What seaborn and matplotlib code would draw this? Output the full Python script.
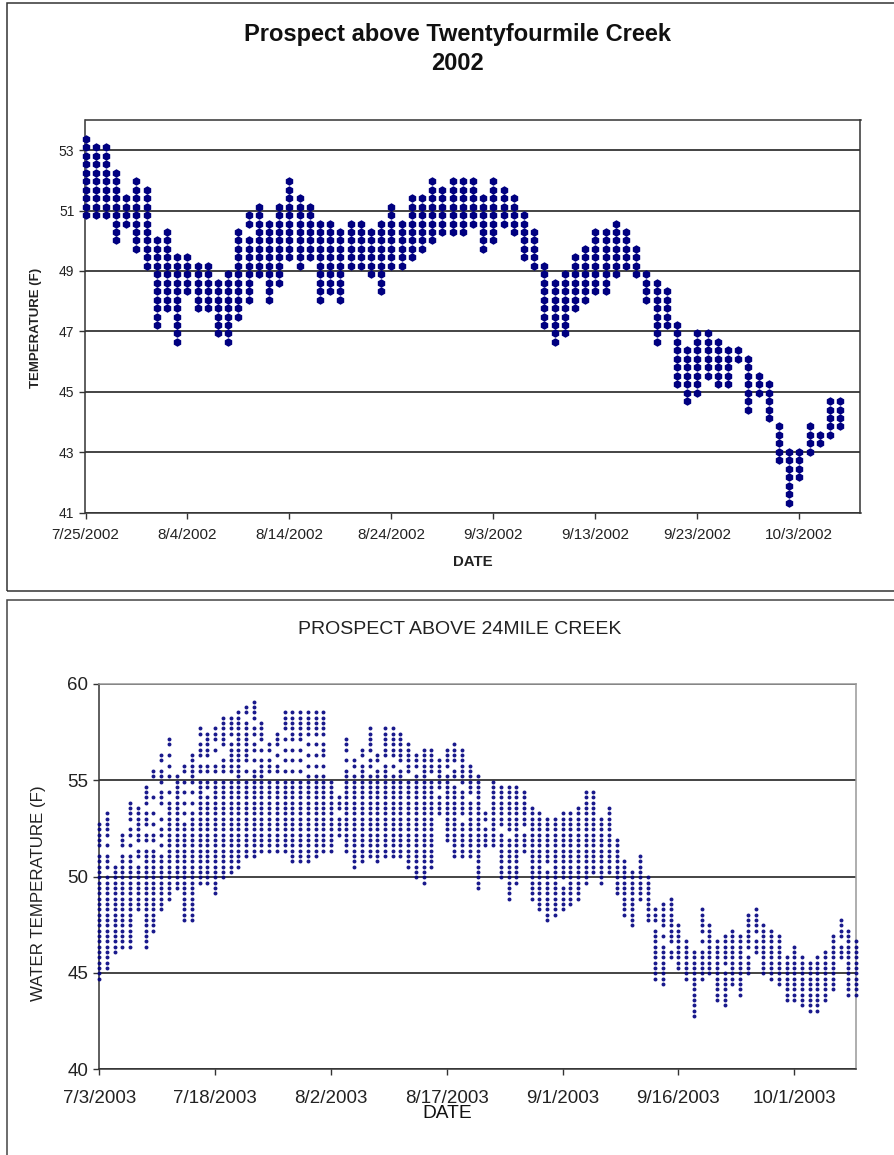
import matplotlib
matplotlib.use('Agg')
import matplotlib.pyplot as plt
import matplotlib.dates as mdates
from matplotlib.patches import Rectangle
import seaborn as sns
import pandas as pd
import numpy as np

# 2002 chart, daily highs and lows (F)
start_2002 = '2002-07-25'
highs_2002 = [53.37,53.09,53.09,52.25,51.41,51.97,51.69,50.01,50.29,49.45,49.45,49.17,49.17,48.61,48.89,
              50.29,50.85,51.13,50.57,51.13,51.97,51.41,51.13,50.57,50.57,50.29,50.57,50.57,50.29,50.57,
              51.13,50.57,51.41,51.41,51.97,51.69,51.97,51.97,51.97,51.41,51.97,51.69,51.41,50.85,50.29,
              49.17,48.61,48.89,49.45,49.73,50.29,50.29,50.57,50.29,49.73,48.89,48.61,48.33,47.21,46.37,
              46.93,46.93,46.65,46.37,46.37,46.09,45.53,45.25,43.85,43.01,43.01,43.85,43.57,44.69,44.69]
lows_2002 = [50.85,50.85,50.85,50.01,50.57,49.73,49.17,47.21,47.77,46.65,48.33,47.77,47.77,46.93,46.65,
             47.49,48.05,48.89,48.05,48.61,49.45,49.17,49.45,48.05,48.33,48.05,49.17,49.17,48.89,48.33,
             49.17,49.17,49.45,49.73,50.01,50.29,50.29,50.29,50.57,49.73,50.01,50.57,50.29,49.45,49.17,
             47.21,46.65,46.93,47.77,48.05,48.33,48.33,48.89,49.17,48.89,48.05,46.65,47.21,45.25,44.69,
             44.97,45.53,45.25,45.25,46.09,44.41,44.97,44.13,42.73,41.33,42.17,43.01,43.29,43.57,43.85]
gaps_2002 = [(16, 50.29)]
ticks_2002 = ['7/25/2002', '8/4/2002', '8/14/2002', '8/24/2002', '9/3/2002', '9/13/2002', '9/23/2002', '10/3/2002']
yticks_2002 = [41, 43, 45, 47, 49, 51, 53]

# 2003 chart
start_2003 = '2003-07-03'
highs_2003 = [52.7,53.26,50.5,52.2,53.8,53.6,54.7,55.5,56.3,57.1,55.2,55.8,56.3,57.7,57.4,57.7,58.3,58.3,58.5,58.8,
              59.1,58.0,56.9,57.5,58.5,58.5,58.5,58.5,58.5,58.5,54.95,54.1,57.1,56.1,56.6,57.7,56.3,57.7,57.7,57.4,
              56.85,56.3,56.6,56.6,56.1,56.6,56.9,56.6,55.75,55.24,53.3,54.95,54.65,54.65,54.65,54.4,53.6,53.25,53.0,53.0,
              53.25,53.25,53.6,54.4,54.4,53.0,53.6,51.9,50.75,50.2,51.0,49.95,48.25,48.5,48.8,47.45,46.6,46.05,48.25,47.45,
              46.6,46.9,47.15,46.9,48.0,48.25,47.45,47.15,46.9,45.75,46.3,45.75,45.5,45.75,46.05,46.9,47.7,47.15,46.6]
lows_2003 = [44.8,45.2,46.0,46.3,46.3,48.2,46.3,47.1,48.2,48.8,49.3,47.6,47.6,49.8,49.6,49.0,49.9,50.1,50.4,51.0,
             51.0,51.2,51.2,51.2,51.2,50.7,50.7,50.7,51.0,51.2,51.2,52.1,51.2,50.5,50.7,51.0,50.7,51.0,51.0,51.0,
             50.5,49.9,49.6,50.5,53.2,51.8,51.0,51.0,51.0,49.37,51.55,51.55,49.9,48.8,49.6,51.2,48.8,48.2,47.65,47.95,
             48.2,48.5,48.8,49.6,50.2,49.6,50.1,49.1,47.95,47.4,48.8,47.65,44.65,44.3,45.7,45.2,44.65,42.65,44.65,44.9,
             43.5,43.2,44.3,43.75,44.9,45.95,44.9,44.6,44.3,43.5,43.5,43.2,42.9,42.9,43.5,44.05,45.7,43.75,43.75]
# rungs of the ladder with no dot in the picture
gaps_2003 = [(0,51.3),(1,51.85),(1,51.3),(1,50.2),(3,51.3),(4,52.65),(4,51.85),(4,51.3),(5,51.55),(5,50.75),
             (6,53.5),(6,52.4),(6,51.55),(7,54.94),(7,54.66),(7,54.38),(7,53.83),(7,53.55),(7,52.95),(7,52.4),(7,51.55),
             (8,55.77),(8,54.66),(8,53.5),(8,53.2),(8,52.65),(8,51.85),(8,51.3),
             (9,56.6),(9,56.04),(9,55.49),(9,54.94),(9,54.66),(9,54.1),
             (11,55.21),(11,54.66),(11,54.1),(11,53.55),(11,52.95),(12,54.66),(12,54.1),(12,53.55),
             (13,57.15),(13,56.04),(13,55.21),(14,56.04),(14,55.21),(14,54.38),
             (15,56.87),(15,56.32),(15,56.04),(15,55.21),(16,56.6),(16,56.32),(16,55.21),(17,57.15),(17,55.21),
             (19,58.26),(19,55.77),(19,55.21),(20,58.0),(20,57.15),(20,56.32),(20,55.77),(21,56.87),(21,56.32),
             (22,56.32),(22,55.21),(23,56.6),(23,56.04),(23,55.21),
             (24,57.43),(24,56.87),(24,56.32),(24,55.77),(24,55.21),
             (25,56.87),(25,56.32),(25,55.77),(25,55.21),(26,56.87),(26,56.32),(26,55.77),(26,55.21),
             (27,57.15),(27,56.6),(27,56.04),(27,55.49),(28,57.15),(28,56.6),(28,56.04),(28,55.49),
             (29,57.15),(29,56.04),(29,55.49),(31,53.27),
             (32,56.32),(32,55.77),(33,55.49),(34,56.04),(35,56.32),(35,55.49),(36,55.77),(37,56.04),(38,56.04),(38,55.49),
             (39,55.77),(40,55.21),(41,55.49),(43,55.21),(44,54.38),(45,55.49),(46,55.77),(46,54.94),(47,54.66),(47,53.0),
             (48,54.1),(50,52.7),(52,52.44),(53,52.17),(55,52.44),(58,50.5),(60,49.67),
             (72,47.43),(73,47.15),(73,46.6),(74,46.3),(78,46.88),(78,46.32),(81,45.2),(84,46.1),(85,46.9),(96,46.6)]
ticks_2003 = ['7/3/2003', '7/18/2003', '8/2/2003', '8/17/2003', '9/1/2003', '9/16/2003', '10/1/2003']
yticks_2003 = [40, 45, 50, 55, 60]


def expand(start, highs, lows, gaps, top, step, rungs):
    # one row per dot: every sensor rung between the day's low and high
    levels = top - step * np.arange(rungs)
    rows = []
    for i, (hi, lo) in enumerate(zip(highs, lows)):
        for lv in levels:
            if lv > hi + step / 2 or lv < lo - step / 2:
                continue
            if any(d == i and abs(lv - t) < step / 2 for d, t in gaps):
                continue
            rows.append((pd.Timestamp(start) + pd.Timedelta(days=i), lv))
    return pd.DataFrame(rows, columns=['date', 'temp'])


def style_axis(ax, ticks, yticks, ylim, xmax, xsize, ysize, xpad):
    ax.set_xlim(pd.to_datetime(ticks[0]), pd.Timestamp(xmax))
    ax.set_ylim(*ylim)
    ax.set_xticks(pd.to_datetime(ticks))
    ax.xaxis.set_major_formatter(mdates.DateFormatter('%-m/%-d/%Y'))
    ax.set_yticks(yticks)
    ax.tick_params(axis='both', direction='out', length=4, width=1, color='#333333',
                   labelcolor='#222222', bottom=True, left=True)
    ax.tick_params(axis='x', labelsize=xsize, pad=xpad)
    ax.tick_params(axis='y', labelsize=ysize, pad=4)
    ax.grid(axis='y', color='#111111', lw=1.1)
    ax.grid(axis='x', visible=False)
    ax.set_axisbelow(True)
    ax.set_xlabel('')
    ax.set_ylabel('')


sns.set_theme(style='white')
plt.rcParams['font.family'] = ['Liberation Sans', 'DejaVu Sans']

W, H = 895, 1155
fig = plt.figure(figsize=(W / 100, H / 100), dpi=100)

# outer frames, both run off the page
fig.add_artist(Rectangle((7 / W, 1 - 590.5 / H), 900 / W, 587.5 / H, fill=False, ec='#333333', lw=1.1,
                         transform=fig.transFigure))
fig.add_artist(Rectangle((7 / W, -0.02), 900 / W, 1 - 600.5 / H + 0.02, fill=False, ec='#444444', lw=1.1,
                         transform=fig.transFigure))

# top chart
ax1 = fig.add_axes([85.5 / W, 1 - 512.5 / H, (860.5 - 85.5) / W, (512.5 - 120) / H])
df_2002 = expand(start_2002, highs_2002, lows_2002, gaps_2002, 53.37, 0.28, 44)
sns.scatterplot(data=df_2002, x='date', y='temp', marker='h', color='#000080', s=38, linewidth=0,
                clip_on=False, zorder=3, ax=ax1)
style_axis(ax1, ticks_2002, yticks_2002, (41, 54), '2002-10-09', 11, 10, 7)
for s in ax1.spines.values():
    s.set_visible(True)
    s.set_color('#333333')
    s.set_linewidth(1.1)
fig.text(458 / W, 1 - 35 / H, 'Prospect above Twentyfourmile Creek', ha='center', va='center',
         fontsize=17, fontweight='bold', color='#111111')
fig.text(458 / W, 1 - 64 / H, '2002', ha='center', va='center', fontsize=17, fontweight='bold', color='#111111')
fig.text(472.5 / W, 1 - 562 / H, 'DATE', ha='center', va='center', fontsize=10.8, fontweight='bold', color='#222222')
fig.text(36 / W, 1 - 328 / H, 'TEMPERATURE (F)', ha='center', va='center', rotation=90, fontsize=9.5,
         fontweight='bold', color='#222222')

# bottom chart
ax2 = fig.add_axes([99.3 / W, 1 - 1069 / H, (856 - 99.3) / W, (1069 - 684) / H])
df_2003 = expand(start_2003, highs_2003, lows_2003, gaps_2003, 59.09, 0.277, 62)
sns.scatterplot(data=df_2003, x='date', y='temp', marker='o', color='#000080', s=8, linewidth=0, alpha=0.9,
                clip_on=False, zorder=3, ax=ax2)
style_axis(ax2, ticks_2003, yticks_2003, (40, 60), '2003-10-09', 13.5, 13.5, 11)
for side, s in ax2.spines.items():
    s.set_visible(True)
    s.set_linewidth(1.1)
    s.set_color('#333333' if side in ('left', 'bottom') else '#999999')
fig.text(460 / W, 1 - 630 / H, 'PROSPECT ABOVE 24MILE CREEK', ha='center', va='center', fontsize=14,
         color='#222222')
fig.text(447 / W, 1 - 1113 / H, 'DATE', ha='center', va='center', fontsize=13.8, color='#111111')
fig.text(39 / W, 1 - 893.5 / H, 'WATER TEMPERATURE (F)', ha='center', va='center', rotation=90, fontsize=12.2,
         color='#222222')

fig.savefig('out.png', dpi=100)
